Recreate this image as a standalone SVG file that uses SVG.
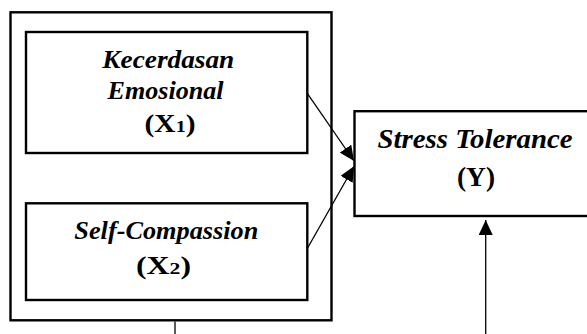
<svg xmlns="http://www.w3.org/2000/svg" width="587" height="334" viewBox="0 0 587 334">
<style>
.box{fill:none;stroke:#000;stroke-width:2.4}
.line{fill:none;stroke:#000;stroke-width:1.3}
text{font-family:'Liberation Serif','Times New Roman',Times,serif;font-weight:700;fill:#000;font-size:25px}
.t{font-style:italic}
.big{font-size:27px}
</style>
<defs>
<marker id="ah" markerUnits="userSpaceOnUse" markerWidth="16" markerHeight="14" refX="15" refY="7" orient="auto">
<path d="M0,0 L15,7 L0,14 z" fill="#000"/>
</marker>
</defs>
<g id="group-x">
<rect class="box" x="10.5" y="12.3" width="321" height="308"/>
</g>
<g id="node-x1">
<rect class="box" x="26" y="32" width="281.3" height="121"/>
<text class="t" x="168.3" y="68.3" text-anchor="middle" textLength="132" lengthAdjust="spacingAndGlyphs">Kecerdasan</text>
<text class="t" x="165.5" y="98.5" text-anchor="middle" textLength="116" lengthAdjust="spacingAndGlyphs">Emosional</text>
<text x="170" y="132" text-anchor="middle" textLength="51" lengthAdjust="spacingAndGlyphs">(X<tspan font-size="17">1</tspan>)</text>
</g>
<g id="node-x2">
<rect class="box" x="26" y="203.3" width="281.3" height="96.7"/>
<text class="t" x="166.3" y="239" text-anchor="middle" textLength="184" lengthAdjust="spacingAndGlyphs">Self-Compassion</text>
<text x="163.5" y="273.5" text-anchor="middle" textLength="55" lengthAdjust="spacingAndGlyphs">(X<tspan font-size="17">2</tspan>)</text>
</g>
<g id="node-y">
<rect class="box" x="354.5" y="111.2" width="240" height="104.8"/>
<text class="t big" x="475" y="147.7" text-anchor="middle" textLength="195" lengthAdjust="spacingAndGlyphs">Stress Tolerance</text>
<text class="big" x="476" y="186" text-anchor="middle" textLength="38" lengthAdjust="spacingAndGlyphs">(Y)</text>
</g>
<g id="connectors">
<line class="line" x1="307.3" y1="93.3" x2="354" y2="161" marker-end="url(#ah)"/>
<line class="line" x1="307.3" y1="248.5" x2="354" y2="166.3" marker-end="url(#ah)"/>
<line class="line" x1="485.7" y1="334" x2="485.7" y2="220" marker-end="url(#ah)"/>
<line class="line" x1="175" y1="321.5" x2="175" y2="334"/>
</g>
</svg>
